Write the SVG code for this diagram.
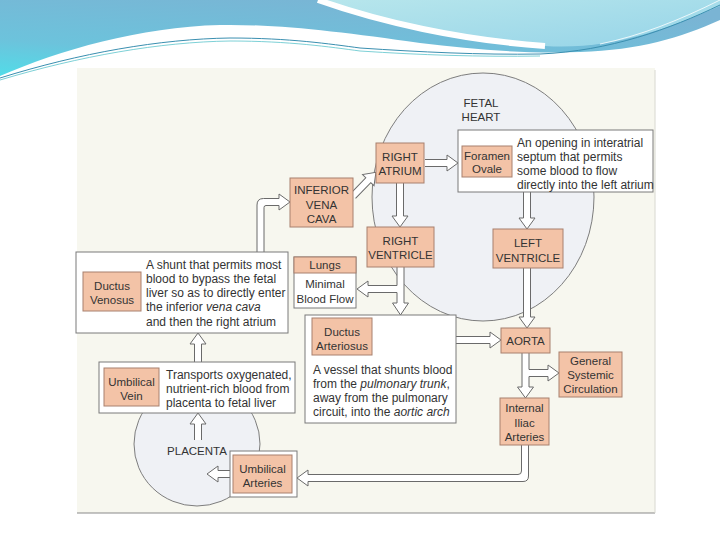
<svg xmlns="http://www.w3.org/2000/svg" width="720" height="540" viewBox="0 0 720 540">
<defs>
<linearGradient id="gBlue" x1="0" y1="1" x2="0.6" y2="0">
<stop offset="0" stop-color="#52dce8"/>
<stop offset="0.35" stop-color="#6cc3dc"/>
<stop offset="1" stop-color="#7ab4d4"/>
</linearGradient>
<linearGradient id="gLight" x1="0" y1="0" x2="1" y2="1">
<stop offset="0" stop-color="#b7e6ec"/>
<stop offset="1" stop-color="#96d4e8"/>
</linearGradient>
<style>
.sal{fill:#f3c3a7;stroke:#a8806e;stroke-width:1}
.wb{fill:#ffffff;stroke:#7a7a7a;stroke-width:1}
.lbl{font-family:"Liberation Sans",Arial,sans-serif;font-size:11.5px;fill:#333;text-anchor:middle}
.cap{font-family:"Liberation Sans",Arial,sans-serif;font-size:11.5px;fill:#333;text-anchor:middle}
.desc{font-family:"Liberation Sans",Arial,sans-serif;font-size:12px;fill:#333}
.arr{fill:#ffffff;stroke:#6a6a6a;stroke-width:1;stroke-linejoin:miter}
.circ{fill:#eff1f5;stroke:#7d7d7d;stroke-width:1}
</style>
</defs>
<rect width="720" height="540" fill="#ffffff"/>
<!-- header waves -->
<path d="M0,0 H720 V20 C680,38 640,50 580,52 C520,54 470,49 420,43 C340,32 280,24 220,25 C140,27 60,50 0,76 Z" fill="url(#gBlue)"/>
<path d="M318,0 C380,22 460,40 545,46 C610,50 665,30 720,6 V0 Z" fill="url(#gLight)"/>
<path d="M318,0 C380,22 460,40 545,46" fill="none" stroke="#ffffff" stroke-width="6"/>
<path d="M0,78 C80,53 160,39 230,38 C290,38 330,44 360,48 C420,52 480,55 540,54 C610,51 670,29 720,5" fill="none" stroke="#3a8fb0" stroke-width="1"/>
<path d="M0,80 C80,56 160,42 230,41 C290,41 330,47 360,51 C420,55 480,57 540,56" fill="none" stroke="#5cc4cc" stroke-width="0.8"/>
<path d="M600,44 C640,36 680,20 720,0" fill="none" stroke="#ffffff" stroke-width="0.8"/>
<!-- picture background -->
<rect x="77" y="68" width="578" height="445" fill="#f7f7ef"/>
<line x1="77" y1="513" x2="655" y2="513" stroke="#8a8a8a" stroke-width="1.2"/>
<line x1="655" y1="70" x2="655" y2="513" stroke="#d8d8d0" stroke-width="1"/>
<!-- circles -->
<g id="heart">
<ellipse class="circ" cx="483" cy="197" rx="111" ry="124"/>
<text class="cap" x="481" y="107">FETAL</text>
<text class="cap" x="481" y="121">HEART</text>
</g>
<g id="placenta">
<ellipse class="circ" cx="197" cy="444" rx="63" ry="62"/>
<text class="cap" x="197" y="455" font-size="12">PLACENTA</text>
</g>
<!-- connectors -->
<g id="connectors">
<path class="arr" d="M425,159.5 H447 V155 L458,163 L447,171 V166.5 H425"/>
<path class="arr" d="M396.5,183 V216 H392 L400,227 L408,216 H403.5 V183"/>
<path class="arr" d="M523.5,192 V218 H519 L527,229 L535,218 H530.5 V192"/>
<path class="arr" transform="translate(353,196) rotate(-46)" d="M0,-3.5 H22 V-8 L33,0 L22,8 V3.5 H0"/>
<path class="arr" d="M257,252 V205 Q257,198.5 263.5,198.5 H279 V194 L290,202 L279,210 V205.5 H266 Q264,205.5 264,207.5 V252"/>
<path class="arr" d="M397,267 V285.5 H368 V281 L357,289 L368,297 V292.5 H397 V303 H392.5 L400.5,315 L408.5,303 H404 V267"/>
<path class="arr" d="M456,336.5 H490 V332 L501,340 L490,348 V343.5 H456"/>
<path class="arr" d="M523.5,268 V317 H519 L527,328 L535,317 H530.5 V268"/>
<path class="arr" d="M522,353 V387 H517.5 L525.5,398 L533.5,387 H529 V376.5 H548 V381 L559,373 L548,365 V369.5 H529 V353"/>
<path class="arr" d="M528.5,445 V476 Q528.5,481.5 523,481.5 H308 V486 L297,478 L308,470 V474.5 H518 Q521.5,474.5 521.5,471 V445"/>
<path class="arr" d="M230,470.5 H218 V466 L207,474 L218,482 V477.5 H230"/>
<path class="arr" d="M194.5,440 V424 H190 L198,413 L206,424 H201.5 V440"/>
<path class="arr" d="M194.5,362 V344 H190 L198,333 L206,344 H201.5 V362"/>
</g>
<!-- nodes -->
<g id="right-atrium">
<rect class="sal" x="376" y="143" width="48" height="40"/>
<text class="lbl" x="400" y="161">RIGHT</text>
<text class="lbl" x="400" y="175">ATRIUM</text>
</g>
<g id="foramen-ovale">
<rect class="wb" x="458" y="130" width="195" height="62"/>
<rect class="sal" x="462" y="146" width="50" height="31"/>
<text class="lbl" x="487" y="160" font-size="11">Foramen</text>
<text class="lbl" x="487" y="173">Ovale</text>
<text class="desc" x="517" y="147" font-size="11.7">An opening in interatrial</text>
<text class="desc" x="517" y="161" font-size="11.7">septum that permits</text>
<text class="desc" x="517" y="175" font-size="11.7">some blood to flow</text>
<text class="desc" x="517" y="189" font-size="11.7">directly into the left atrium</text>
</g>
<g id="right-ventricle">
<rect class="sal" x="367" y="227" width="67" height="40"/>
<text class="lbl" x="400.5" y="245">RIGHT</text>
<text class="lbl" x="400.5" y="259">VENTRICLE</text>
</g>
<g id="left-ventricle">
<rect class="sal" x="493" y="229" width="70" height="39"/>
<text class="lbl" x="528" y="247">LEFT</text>
<text class="lbl" x="528" y="262">VENTRICLE</text>
</g>
<g id="inferior-vena-cava">
<rect class="sal" x="290" y="178" width="63" height="49"/>
<text class="lbl" x="321.5" y="194">INFERIOR</text>
<text class="lbl" x="321.5" y="209">VENA</text>
<text class="lbl" x="321.5" y="223">CAVA</text>
</g>
<g id="ductus-venosus">
<rect class="wb" x="76" y="252" width="212" height="81"/>
<rect class="sal" x="83" y="272" width="58" height="39"/>
<text class="lbl" x="112" y="290" font-size="12">Ductus</text>
<text class="lbl" x="112" y="304">Venosus</text>
<text class="desc" x="146" y="269">A shunt that permits most</text>
<text class="desc" x="146" y="283">blood to bypass the fetal</text>
<text class="desc" x="146" y="297">liver so as to directly enter</text>
<text class="desc" x="146" y="311">the inferior <tspan font-style="italic">vena cava</tspan></text>
<text class="desc" x="146" y="326">and then the right atrium</text>
</g>
<g id="lungs">
<rect class="wb" x="294" y="257" width="62" height="51"/>
<rect class="sal" x="294" y="257" width="62" height="16"/>
<text class="lbl" x="325" y="269">Lungs</text>
<text class="lbl" x="325" y="288" font-size="12">Minimal</text>
<text class="lbl" x="325" y="303" font-size="12">Blood Flow</text>
</g>
<g id="ductus-arteriosus">
<rect class="wb" x="305" y="315" width="151" height="108"/>
<rect class="sal" x="312" y="318" width="60" height="37"/>
<text class="lbl" x="342" y="336" font-size="12">Ductus</text>
<text class="lbl" x="342" y="350">Arteriosus</text>
<text class="desc" x="313" y="374">A vessel that shunts blood</text>
<text class="desc" x="313" y="388">from the <tspan font-style="italic">pulmonary trunk</tspan>,</text>
<text class="desc" x="313" y="402">away from the pulmonary</text>
<text class="desc" x="313" y="416">circuit, into the <tspan font-style="italic">aortic arch</tspan></text>
</g>
<g id="aorta">
<rect class="sal" x="501" y="328" width="49" height="25"/>
<text class="lbl" x="525.5" y="345">AORTA</text>
</g>
<g id="general-systemic-circulation">
<rect class="sal" x="559" y="352" width="63" height="45"/>
<text class="lbl" x="590.5" y="365">General</text>
<text class="lbl" x="590.5" y="379">Systemic</text>
<text class="lbl" x="590.5" y="393">Circulation</text>
</g>
<g id="internal-iliac-arteries">
<rect class="sal" x="500" y="398" width="49" height="47"/>
<text class="lbl" x="524.5" y="412">Internal</text>
<text class="lbl" x="524.5" y="427">Iliac</text>
<text class="lbl" x="524.5" y="441">Arteries</text>
</g>
<g id="umbilical-arteries">
<rect class="wb" x="230" y="451" width="67" height="46"/>
<rect class="sal" x="233" y="455" width="59" height="38"/>
<text class="lbl" x="262.5" y="473">Umbilical</text>
<text class="lbl" x="262.5" y="487">Arteries</text>
</g>
<g id="umbilical-vein">
<rect class="wb" x="99" y="362" width="196" height="51"/>
<rect class="sal" x="104" y="368" width="55" height="38"/>
<text class="lbl" x="131.5" y="386" font-size="12">Umbilical</text>
<text class="lbl" x="131.5" y="400" font-size="12">Vein</text>
<text class="desc" x="166" y="379">Transports oxygenated,</text>
<text class="desc" x="166" y="393">nutrient-rich blood from</text>
<text class="desc" x="166" y="407">placenta to fetal liver</text>
</g>
</svg>
